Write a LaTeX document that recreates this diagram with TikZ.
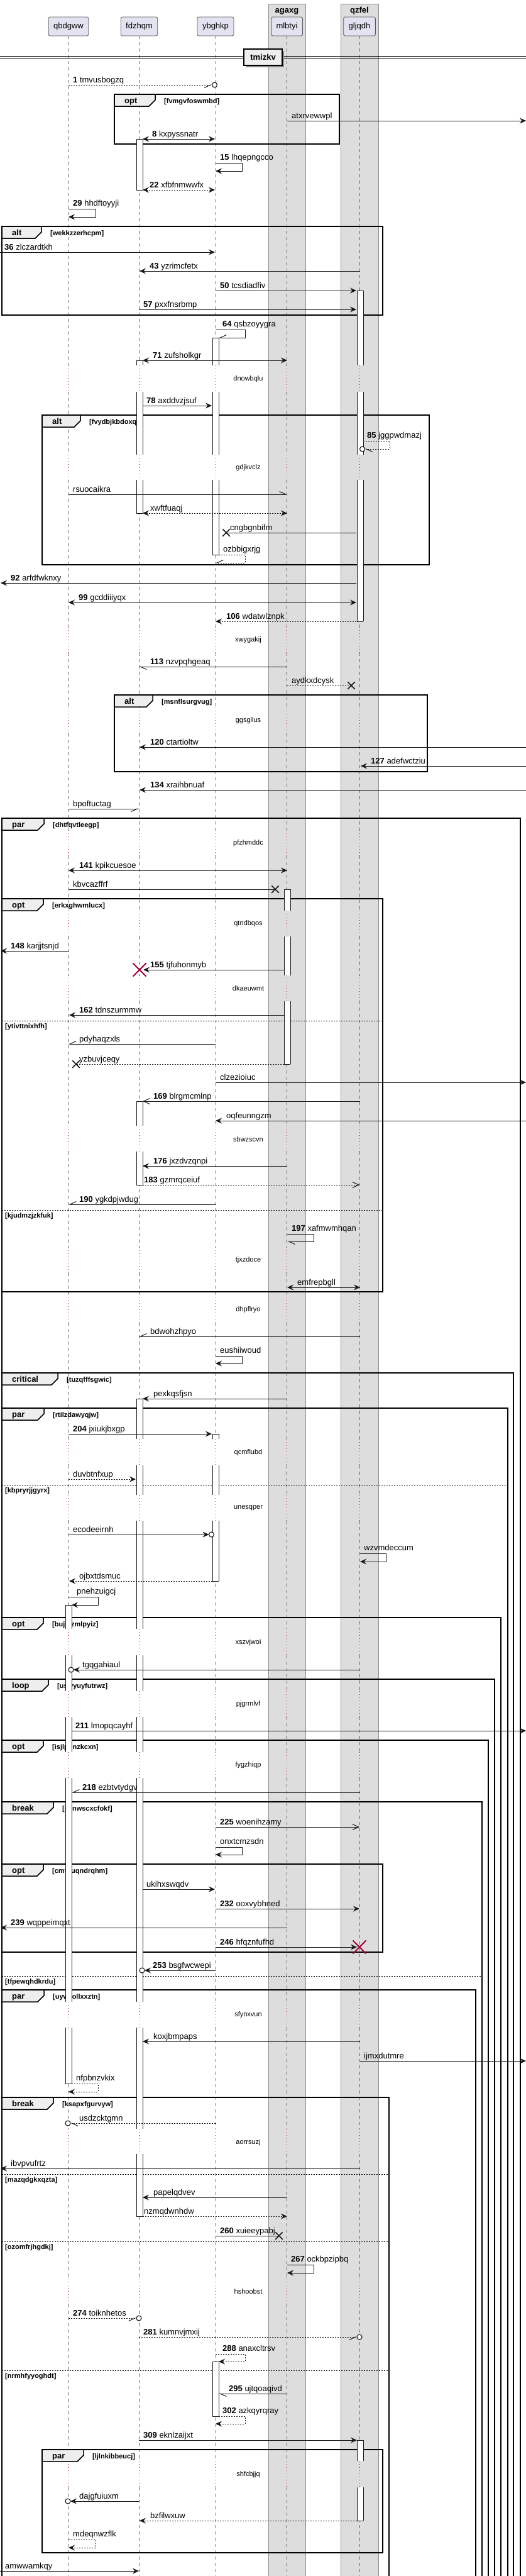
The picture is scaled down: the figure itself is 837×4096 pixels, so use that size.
\documentclass[tikz,border=0pt]{standalone}
\usepackage{fontspec}
\setmainfont{Liberation Sans}
\usetikzlibrary{arrows.meta,shapes.misc}
\definecolor{partfill}{HTML}{E2E2F0}
\definecolor{grpfill}{HTML}{DDDDDD}
\definecolor{tabfill}{HTML}{EEEEEE}
\definecolor{dly}{HTML}{A80036}
\definecolor{ink}{HTML}{181818}
\tikzset{
 lbl/.style={font=\fontsize{13}{15}\selectfont, inner sep=0pt, anchor=base west},
 dlbl/.style={font=\fontsize{11}{13}\selectfont, inner sep=0pt},
 grd/.style={font=\bfseries\fontsize{11}{13}\selectfont, inner sep=0pt, anchor=base west},
 kw/.style={font=\bfseries\fontsize{13}{15}\selectfont, inner sep=0pt, anchor=base west},
 part/.style={draw=black!65, fill=partfill, rounded corners=2.5pt, minimum height=30pt, inner xsep=8pt, inner ysep=0pt, font=\fontsize{13}{15}\selectfont, line width=0.8pt},
 grp/.style={draw=black!45, fill=grpfill, line width=0.6pt},
 life/.style={draw=black!60, line width=0.8pt, dash pattern=on 5pt off 5pt},
 dl/.style={draw=dly, line width=0.9pt, dash pattern=on 1pt off 4pt},
 frame/.style={draw=black, line width=1.5pt},
 elsel/.style={draw=black, line width=0.9pt, dash pattern=on 2pt off 2pt},
 actl/.style={draw=ink, line width=0.9pt},
 msg/.style={draw=ink, line width=1pt},
 dsh/.style={dash pattern=on 2pt off 2pt},
 fa/.style={-{Stealth[length=10pt,width=9pt,inset=3.5pt]}},
 fab/.style={{Stealth[length=10pt,width=9pt,inset=3.5pt]}-{Stealth[length=10pt,width=9pt,inset=3.5pt]}},
 ta/.style={-{Straight Barb[length=10pt,width=9pt]}},
 hl/.style={-{Straight Barb[length=10pt,width=9pt,harpoon]}},
 hr/.style={-{Straight Barb[length=10pt,width=9pt,harpoon,swap]}},
 circ/.style={circle, draw=ink, line width=1.1pt, minimum size=8pt, inner sep=0pt, fill=white},
 lost/.style={cross out, draw=ink, line width=1.5pt, minimum size=10pt, inner sep=0pt},
 destroy/.style={cross out, draw=dly, line width=2pt, minimum size=19pt, inner sep=0pt},
 divbox/.style={draw=black, line width=1.5pt, fill=tabfill, font=\bfseries\fontsize{13}{15}\selectfont, minimum width=61pt, minimum height=26pt, inner sep=0pt},
}
\newcommand\mline[5]{\coordinate (#1a) at (#3,#5); \coordinate (#1b) at (#4,#5); \draw[msg,#2] (#1a) -- (#1b);}
\newcommand\mself[7]{\coordinate (#1a) at (#3,#5); \coordinate (#1b) at (#7,#6); \draw[msg,#2] (#1a) -- (#4,#5) -- (#4,#6) -- (#1b);}
\newcommand\mlab[4]{\node[lbl] (#1t) at (#2,#3) {#4};}
\newcommand\gframe[8]{%
  \draw[frame] (#1,#2) rectangle (#3,#4);
  \draw[frame,fill=tabfill] (#1,#2) -- ({#1+#6},#2) -- ({#1+#6},{#2+9}) -- ({#1+#6-10},{#2+19}) -- (#1,{#2+19}) -- cycle;
  \node[kw] (#8k) at ({#1+16},{#2+14}) {#5};
  \node[grd] (#8g) at ({#1+#6+14},{#2+14}) {#7};}
\newcommand\elsesep[5]{\draw[elsel] (#1,#3) -- (#2,#3); \node[grd] (#5) at (8,{#3+12}) {#4};}
\newcommand\actv[5]{%
  \fill[white] ({#1-5},#2) rectangle ({#1+5},#3);
  \draw[actl] ({#1-5},#2) -- ({#1-5},#3) ({#1+5},#2) -- ({#1+5},#3);
  \ifnum#4=1 \draw[actl] ({#1-5},#2) -- ({#1+5},#2);\fi
  \ifnum#5=1 \draw[actl] ({#1-5},#3) -- ({#1+5},#3);\fi}
\begin{document}
\begin{tikzpicture}[x=1pt,y=-1pt]
\useasboundingbox (0,0) rectangle (837,4096);
\clip (0,0) rectangle (837,4096);
\fill[white] (0,0) rectangle (837,4096);
% box groups
\draw[grp] (427,6) rectangle (486,4120);
\draw[grp] (542,6) rectangle (602,4120);
\node[kw,anchor=base] (gA) at (456.5,20) {agaxg};
\node[kw,anchor=base] (gB) at (572,20) {qzfel};
% participants
\node[part] (pA) at (109,42) {qbdgww};
\node[part] (pB) at (221.5,42) {fdzhqm};
\node[part] (pC) at (343,42) {ybghkp};
\node[part] (pD) at (456.5,42) {mlbtyi};
\node[part] (pE) at (572,42) {gljqdh};
% lifelines
\foreach \p in {pA,pB,pC,pD,pE}{
  \foreach \a/\b in {57/581,623/723,763/997,1038/1125,1166/1320,1361/1448,1489/1551,1592/1790,1831/1983,2024/2062,2103/2288,2330/2377,2418/2590,2632/2689,2730/2786,2827/3183,3224/3385,3425/3623,3664/3913,3955/4110}
    {\draw[life] (\p |- 0,\a) -- (\p |- 0,\b);}
  \foreach \a/\b in {581/623,723/763,997/1038,1125/1166,1320/1361,1448/1489,1551/1592,1790/1831,1983/2024,2062/2103,2288/2330,2377/2418,2590/2632,2689/2730,2786/2827,3183/3224,3385/3425,3623/3664,3913/3955}
    {\draw[dl] (\p |- 0,\a) -- (\p |- 0,\b);}
}
% delay texts
\foreach \t/\yy [count=\i] in {dnowbqlu/603,gdjkvclz/744,xwygakij/1018,ggsgllus/1146,pfzhmddc/1341,qtndbqos/1469,dkaeuwmt/1572,sbwzscvn/1812,tjxzdoce/2004,dhpflryo/2083,qcmflubd/2310,unesqper/2398,xszvjwoi/2612,pjgrmlvf/2710,fygzhiqp/2807,sfynxvun/3204,aorrsuzj/3407,hshoobst/3644,shfcbjjq/3935}
  {\node[dlbl] (dly\i) at (395,\yy) {\t};}
% divider
\draw[black,line width=1pt] (0,89.5) -- (837,89.5) (0,92.7) -- (837,92.7);
\fill[black!45] (391,81) rectangle (452,107);
\node[divbox] (dv) at (418.5,91) {tmizkv};
% frames
\gframe{182}{150}{540}{229}{opt}{65}{[fvmgvfoswmbd]}{f1}
\gframe{3}{360}{609}{501}{alt}{63}{[wekkzzerhcpm]}{f2}
\gframe{67}{660}{683}{898}{alt}{61}{[fvydbjkbdoxq]}{f3}
\gframe{182}{1105}{680}{1227}{alt}{61}{[msnflsurgvug]}{f4}
\gframe{3}{1301}{828}{4120}{par}{67}{[dhtfqvtleegp]}{f5}
\gframe{3}{1429}{609}{2054}{opt}{66}{[erkxghwmlucx]}{f6}
\gframe{3}{2183}{817}{4120}{critical}{89}{[tuzqfffsgwic]}{f7}
\gframe{3}{2239}{808}{4120}{par}{67}{[rtilzdawyqjw]}{f8}
\gframe{3}{2572}{797}{4120}{opt}{66}{[bujmzmlpyiz]}{f9}
\gframe{3}{2670}{787}{4120}{loop}{74}{[uswyuyfutrwz]}{f10}
\gframe{3}{2767}{777}{4120}{opt}{66}{[isjlphnzkcxn]}{f11}
\gframe{3}{2865}{767}{4120}{break}{82}{[svnwscxcfokf]}{f12}
\gframe{3}{2964}{609}{3104}{opt}{66}{[cmtuuqndrqhm]}{f13}
\gframe{3}{3164}{757}{4120}{par}{67}{[uywzollxxztn]}{f14}
\gframe{3}{3335}{619}{4120}{break}{82}{[ksapxfgurvyw]}{f15}
\gframe{67}{3895}{609}{4059}{par}{66}{[ljlnkibbeucj]}{f16}
\elsesep{3}{609}{1623}{[ytivttnixhfh]}{e1}
\elsesep{3}{609}{1924}{[kjudmzjzkfuk]}{e2}
\elsesep{3}{808}{2361}{[kbpryrjjgyrx]}{e3}
\elsesep{3}{767}{3142}{[tfpewqhdkrdu]}{e4}
\elsesep{3}{619}{3457}{[mazqdgkxqzta]}{e5}
\elsesep{3}{619}{3564}{[ozomfrjhgdkj]}{e6}
\elsesep{3}{619}{3769}{[nrmhfyyoghdt]}{e7}
% activation bars
\actv{222}{221}{302}{1}{1}
\actv{573}{462}{581}{1}{0}\actv{573}{623}{723}{0}{0}\actv{573}{763}{988}{0}{1}
\actv{343}{537}{581}{1}{0}\actv{343}{623}{723}{0}{0}\actv{343}{763}{882}{0}{1}
\actv{222}{573}{581}{1}{0}\actv{222}{623}{723}{0}{0}\actv{222}{763}{816}{0}{1}
\actv{457}{1414}{1448}{1}{0}\actv{457}{1489}{1551}{0}{0}\actv{457}{1592}{1692}{0}{1}
\actv{222}{1751}{1790}{1}{0}\actv{222}{1831}{1884}{0}{1}
\actv{222}{2224}{2288}{1}{0}\actv{222}{2330}{2377}{0}{0}\actv{222}{2418}{2590}{0}{0}\actv{222}{2632}{2689}{0}{0}
\actv{222}{2730}{2786}{0}{0}\actv{222}{2827}{3183}{0}{0}\actv{222}{3224}{3385}{0}{0}\actv{222}{3425}{3524}{0}{1}
\actv{343}{2280}{2288}{1}{0}\actv{343}{2330}{2377}{0}{0}\actv{343}{2418}{2514}{0}{1}
\actv{109}{2552}{2590}{1}{0}\actv{109}{2632}{2689}{0}{0}\actv{109}{2730}{2786}{0}{0}\actv{109}{2827}{3183}{0}{0}\actv{109}{3224}{3313}{0}{1}
\actv{343}{3755}{3842}{1}{1}
\actv{573}{3880}{3913}{1}{0}\actv{573}{3955}{4008}{0}{1}
% messages
\mline{m1}{dsh,hr}{109}{337.5}{135}\node[circ] (m1o) at (341.5,135) {};
\mlab{m1}{116}{131}{\textbf{1} tmvusbogzq}
\mline{m2}{fa}{457}{837}{192}\mlab{m2}{464}{188}{atxrvewwpl}
\mline{m3}{fab}{227}{342}{221}\mlab{m3}{242}{217}{\textbf{8} kxpyssnatr}
\mself{m4}{fa}{343}{385}{259}{272}{343}\mlab{m4}{350}{254}{\textbf{15} lhqepngcco}
\mline{m5}{dsh,fab}{227}{342}{302}\mlab{m5}{238}{298}{\textbf{22} xfbfnmwwfx}
\mself{m6}{fa}{109}{152}{332}{345}{109}\mlab{m6}{116}{327}{\textbf{29} hhdftoyyji}
\mline{m7}{fa}{0}{342}{401}\mlab{m7}{7}{397}{\textbf{36} zlczardtkh}
\mline{m8}{fa}{573}{222}{431}\mlab{m8}{238}{427}{\textbf{43} yzrimcfetx}
\mline{m9}{fa}{343}{567}{462}\mlab{m9}{350}{458}{\textbf{50} tcsdiadfiv}
\mline{m10}{fa}{221}{567}{492}\mlab{m10}{228}{488}{\textbf{57} pxxfnsrbmp}
\mself{m11}{hr}{343}{390}{524}{537}{348}\mlab{m11}{354}{519}{\textbf{64} qsbzoyygra}
\mline{m12}{fab}{227}{457}{573}\mlab{m12}{243}{569}{\textbf{71} zufsholkgr}
\mline{m13}{fa}{227}{337}{645}\mlab{m13}{233}{641}{\textbf{78} axddvzjsuf}
\mself{m14}{dsh,hl}{578}{620}{701}{714}{580.5}\node[circ] (m14o) at (576.5,714) {};
\mlab{m14}{584}{696}{\textbf{85} jggpwdmazj}
\mline{m15}{hl}{109}{457}{786}\mlab{m15}{116}{782}{rsuocaikra}
\mline{m16}{dsh,fab}{227}{457}{816}\mlab{m16}{239}{812}{xwftfuaqj}
\mline{m17}{}{567}{360}{847}\node[lost] (m17x) at (360,847) {};\mlab{m17}{366}{843}{cngbgnbifm}
\mself{m18}{dsh,hr}{348}{390}{882}{895}{343}\mlab{m18}{355}{877}{ozbbigxrjg}
\mline{m19}{fa}{567}{1}{927}\mlab{m19}{17}{923}{\textbf{92} arfdfwknxy}
\mline{m20}{fab}{109}{567}{958}\mlab{m20}{125}{954}{\textbf{99} gcddiiiyqx}
\mline{m21}{dsh,fa}{567}{343}{988}\mlab{m21}{360}{984}{\textbf{106} wdatwlznpk}
\mline{m22}{hl}{457}{221}{1060}\mlab{m22}{239}{1056}{\textbf{113} nzvpqhgeaq}
\mline{m23}{dsh}{457}{559}{1090}\node[lost] (m23x) at (559,1090) {};\mlab{m23}{464}{1086}{aydkxdcysk}
\mline{m24}{fa}{837}{222}{1188}\mlab{m24}{239}{1184}{\textbf{120} ctartioltw}
\mline{m25}{fa}{837}{574}{1218}\mlab{m25}{590}{1214}{\textbf{127} adefwctziu}
\mline{m26}{fa}{837}{222}{1256}\mlab{m26}{239}{1252}{\textbf{134} xraihbnuaf}
\mline{m27}{hr}{109}{221}{1286}\mlab{m27}{116}{1282}{bpoftuctag}
\mline{m28}{fab}{109}{457}{1384}\mlab{m28}{126}{1380}{\textbf{141} kpikcuesoe}
\mline{m29}{}{109}{438}{1414}\node[lost] (m29x) at (438,1414) {};\mlab{m29}{116}{1410}{kbvcazffrf}
\mline{m30}{fa}{109}{1}{1512}\mlab{m30}{17}{1508}{\textbf{148} karjjtsnjd}
\mline{m31}{fa}{452}{228}{1542}\node[destroy] (m31x) at (222,1542) {};\mlab{m31}{239}{1538}{\textbf{155} tjfuhonmyb}
\mline{m32}{fa}{452}{110}{1614}\mlab{m32}{126}{1610}{\textbf{162} tdnszurmmw}
\mline{m33}{hr}{343}{109}{1660}\mlab{m33}{126}{1656}{pdyhaqzxls}
\mline{m34}{dsh}{452}{121}{1692}\node[lost] (m34x) at (121,1692) {};\mlab{m34}{126}{1688}{yzbuvjceqy}
\mline{m35}{fa}{343}{837}{1721}\mlab{m35}{350}{1717}{clzezioiuc}
\mline{m36}{ta}{573}{227}{1751}\mlab{m36}{244}{1747}{\textbf{169} blrgmcmlnp}
\mline{m37}{fa}{837}{343}{1782}\mlab{m37}{360}{1778}{oqfeunngzm}
\mline{m38}{fa}{457}{227}{1854}\mlab{m38}{244}{1850}{\textbf{176} jxzdvzqnpi}
\mline{m39}{dsh,ta}{227}{572}{1884}\mlab{m39}{229}{1880}{\textbf{183} gzmrqceiuf}
\mline{m40}{hr}{343}{109}{1915}\mlab{m40}{126}{1911}{\textbf{190} ygkdpjwdug}
\mself{m41}{hl}{457}{499}{1962}{1974}{457}\mlab{m41}{464}{1957}{\textbf{197} xafmwmhqan}
\mline{m42}{fab}{457}{573}{2047}\mlab{m42}{473}{2043}{emfrepbgll}
\mline{m43}{hr}{573}{221}{2125}\mlab{m43}{239}{2121}{bdwohzhpyo}
\mself{m44}{fa}{343}{385}{2156}{2168}{343}\mlab{m44}{350}{2151}{eushiiwoud}
\mline{m45}{fa}{457}{227}{2224}\mlab{m45}{244}{2220}{pexkqsfjsn}
\mline{m46}{fa}{109}{337}{2280}\mlab{m46}{116}{2276}{\textbf{204} jxiukjbxgp}
\mline{m47}{dsh,fa}{109}{216}{2352}\mlab{m47}{116}{2348}{duvbtnfxup}
\mline{m48}{fa}{109}{332.5}{2440}\node[circ] (m48o) at (336.5,2440) {};\mlab{m48}{116}{2436}{ecodeeirnh}
\mself{m49}{fa}{573}{614}{2470}{2483}{573}\mlab{m49}{579}{2465}{wzvmdeccum}
\mline{m50}{dsh,fa}{338}{110}{2514}\mlab{m50}{126}{2510}{ojbxtdsmuc}
\mself{m51}{fa}{109}{156}{2539}{2552}{114}\mlab{m51}{122}{2534}{pnehzuigcj}
\mline{m52}{fa}{573}{117}{2655}\node[circ] (m52o) at (113,2655) {};\mlab{m52}{131}{2651}{tgqgahiaul}
\mline{m53}{fa}{114}{837}{2752}\mlab{m53}{120}{2748}{\textbf{211} lmopqcayhf}
\mline{m54}{hr}{573}{114}{2850}\mlab{m54}{131}{2846}{\textbf{218} ezbtvtydgv}
\mline{m55}{ta}{343}{572}{2905}\mlab{m55}{350}{2901}{\textbf{225} woenihzamy}
\mself{m56}{fa}{343}{385}{2937}{2949}{343}\mlab{m56}{350}{2932}{onxtcmzsdn}
\mline{m57}{fa}{227}{342}{3004}\mlab{m57}{233}{3000}{ukihxswqdv}
\mline{m58}{fa}{343}{572}{3035}\mlab{m58}{350}{3031}{\textbf{232} ooxvybhned}
\mline{m59}{fa}{457}{1}{3065}\mlab{m59}{17}{3061}{\textbf{239} wqppeimqxt}
\mline{m60}{fa}{343}{568}{3096}\node[destroy] (m60x) at (572,3096) {};\mlab{m60}{350}{3092}{\textbf{246} hfqznfufhd}
\mline{m61}{fa}{343}{230}{3133}\node[circ] (m61o) at (226,3133) {};\mlab{m61}{243}{3129}{\textbf{253} bsgfwcwepi}
\mline{m62}{fa}{573}{227}{3246}\mlab{m62}{244}{3242}{koxjbmpaps}
\mline{m63}{fa}{573}{837}{3277}\mlab{m63}{579}{3273}{ijmxdutmre}
\mself{m64}{dsh,fa}{114}{156}{3313}{3326}{109}\mlab{m64}{121}{3308}{nfpbnzvkix}
\mline{m65}{dsh,hl}{343}{112}{3376}\node[circ] (m65o) at (108,3376) {};\mlab{m65}{126}{3372}{usdzcktgmn}
\mline{m66}{fa}{573}{1}{3448}\mlab{m66}{17}{3444}{ibvpvufrtz}
\mline{m67}{fa}{457}{227}{3494}\mlab{m67}{244}{3490}{papelqdvev}
\mline{m68}{dsh,fa}{227}{457}{3524}\mlab{m68}{229}{3520}{nzmqdwnhdw}
\mline{m69}{}{343}{444}{3555}\node[lost] (m69x) at (444,3555) {};\mlab{m69}{350}{3551}{\textbf{260} xuieeypabj}
\mself{m70}{fa}{457}{499}{3601}{3614}{457}\mlab{m70}{463}{3596}{\textbf{267} ockbpzipbq}
\mline{m71}{dsh,hr}{109}{217}{3686}\node[circ] (m71o) at (221,3686) {};\mlab{m71}{116}{3682}{\textbf{274} toiknhetos}
\mline{m72}{dsh,hr}{221}{568}{3716}\node[circ] (m72o) at (572,3716) {};\mlab{m72}{228}{3712}{\textbf{281} kumnvjmxij}
\mself{m73}{dsh,fa}{343}{390}{3743}{3755}{348}\mlab{m73}{354}{3738}{\textbf{288} anaxcltrsv}
\mline{m74}{hl}{457}{348}{3806}\mlab{m74}{364}{3802}{\textbf{295} ujtqoaqivd}
\mself{m75}{dsh,fa}{348}{390}{3842}{3854}{343}\mlab{m75}{354}{3837}{\textbf{302} azkqyrqray}
\mline{m76}{fa}{221}{568}{3880}\mlab{m76}{228}{3876}{\textbf{309} eknlzaijxt}
\mline{m77}{fa}{221}{112}{3977}\node[circ] (m77o) at (108,3977) {};\mlab{m77}{126}{3973}{dajgfuiuxm}
\mline{m78}{dsh,fa}{568}{222}{4008}\mlab{m78}{239}{4004}{bzfilwxuw}
\mself{m79}{dsh,fa}{109}{152}{4038}{4051}{109}\mlab{m79}{116}{4033}{mdeqnwzflk}
\mline{m80}{fa}{0}{221}{4088}\mlab{m80}{8}{4084}{amwwamkqy}
\end{tikzpicture}
\end{document}
